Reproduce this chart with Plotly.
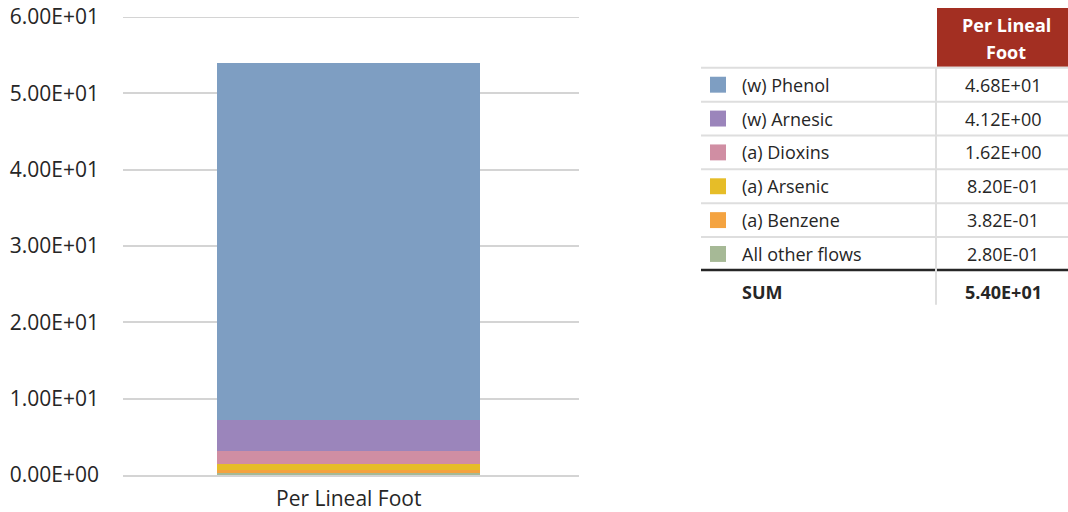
import plotly.graph_objects as go

# Flow contributions per lineal foot (stack order: bottom to top)
flows = ["All other flows", "(a) Benzene", "(a) Arsenic", "(a) Dioxins", "(w) Arnesic", "(w) Phenol"]
values = [0.280, 0.382, 0.820, 1.62, 4.12, 46.8]
colors = ["#a6b996", "#f4a340", "#e6bd28", "#d08ea3", "#9b85bb", "#7e9ec2"]
category = ["Per Lineal Foot"]
value_labels = ["2.80E-01", "3.82E-01", "8.20E-01", "1.62E+00", "4.12E+00", "4.68E+01"]
sum_label = "5.40E+01"
header_lines = ["Per Lineal", "Foot"]
y_ticks = [0, 10, 20, 30, 40, 50, 60]
y_tick_text = ["0.00E+00", "1.00E+01", "2.00E+01", "3.00E+01", "4.00E+01", "5.00E+01", "6.00E+01"]

W, H = 1068, 512
ML, MR, MT, MB = 123, 0, 17, 35
FONT = "Open Sans"
TXT = "#262626"
GRID = "#d4d4d4"


def px(x):
    return (x - ML) / (W - ML - MR)


def py(y):
    return (H - MB - y) / (H - MT - MB)


fig = go.Figure()
for name, val, col in zip(flows, values, colors):
    fig.add_trace(go.Bar(x=category, y=[val], name=name, marker_color=col,
                         marker_line_width=0, width=0.577, showlegend=False,
                         hovertemplate="%{y:.2E}<extra>" + name + "</extra>"))

shapes = []
annotations = []

# Top gridline (plotly skips the grid line sitting on the range edge)
shapes.append(dict(type="line", xref="paper", yref="y", x0=0, x1=px(579),
                   y0=y_ticks[-1], y1=y_ticks[-1], line=dict(color=GRID, width=2), layer="below"))

# Header cell
shapes.append(dict(type="rect", xref="paper", yref="paper", x0=px(937), x1=px(1068),
                   y0=py(67), y1=py(8), fillcolor="#a32f22", line_width=0))
for line_text, ly in zip(header_lines, [25, 52]):
    annotations.append(dict(xref="paper", yref="paper", x=px(1006), y=py(ly),
                            text="<b>" + line_text + "</b>", showarrow=False,
                            font=dict(family=FONT, size=18, color="white"),
                            xanchor="center", yanchor="middle"))

# Row separators
row_top = 68
row_h = 34
for i in range(7):
    y = row_top + i * row_h
    if i < 6:
        shapes.append(dict(type="line", xref="paper", yref="paper", x0=px(701), x1=px(1068),
                           y0=py(y), y1=py(y), line=dict(color="#dedede", width=2)))
    else:
        shapes.append(dict(type="line", xref="paper", yref="paper", x0=px(701), x1=px(1068),
                           y0=py(y - 1), y1=py(y - 1), line=dict(color=TXT, width=2.5)))
shapes.append(dict(type="line", xref="paper", yref="paper", x0=px(936), x1=px(936),
                   y0=py(68), y1=py(306), line=dict(color="#dedede", width=2)))

# Table rows, top to bottom
for i, idx in enumerate(reversed(range(len(flows)))):
    cy = row_top + row_h * i + row_h / 2
    shapes.append(dict(type="rect", xref="paper", yref="paper", x0=px(710), x1=px(726),
                       y0=py(cy + 8), y1=py(cy - 8), fillcolor=colors[idx], line_width=0))
    annotations.append(dict(xref="paper", yref="paper", x=px(740), y=py(cy), text=flows[idx],
                            showarrow=False, xanchor="left", yanchor="middle",
                            font=dict(family=FONT, size=18, color=TXT)))
    annotations.append(dict(xref="paper", yref="paper", x=px(1003), y=py(cy), text=value_labels[idx],
                            showarrow=False, xanchor="center", yanchor="middle",
                            font=dict(family=FONT, size=18, color=TXT)))

annotations.append(dict(xref="paper", yref="paper", x=px(740), y=py(293), text="<b>SUM</b>",
                        showarrow=False, xanchor="left", yanchor="middle",
                        font=dict(family=FONT, size=18, color=TXT)))
annotations.append(dict(xref="paper", yref="paper", x=px(1003), y=py(293), text="<b>" + sum_label + "</b>",
                        showarrow=False, xanchor="center", yanchor="middle",
                        font=dict(family=FONT, size=18, color=TXT)))

fig.update_layout(
    width=W, height=H,
    margin=dict(l=ML, r=MR, t=MT, b=MB),
    barmode="stack",
    plot_bgcolor="white", paper_bgcolor="white",
    font=dict(family=FONT, color=TXT),
    shapes=shapes, annotations=annotations,
    xaxis=dict(domain=[0, px(579)], showgrid=False, showline=True, linecolor=GRID,
               linewidth=2, tickfont=dict(size=21, color=TXT), ticks="",
               ticklabelstandoff=4, range=[-0.495, 0.505], fixedrange=True),
    yaxis=dict(range=[0, 60], tickvals=y_ticks, ticktext=y_tick_text, showgrid=True,
               gridcolor=GRID, gridwidth=2, zeroline=False, showline=False,
               tickfont=dict(size=21, color=TXT), ticklabelstandoff=23, fixedrange=True),
)

fig.write_html("out.html")
